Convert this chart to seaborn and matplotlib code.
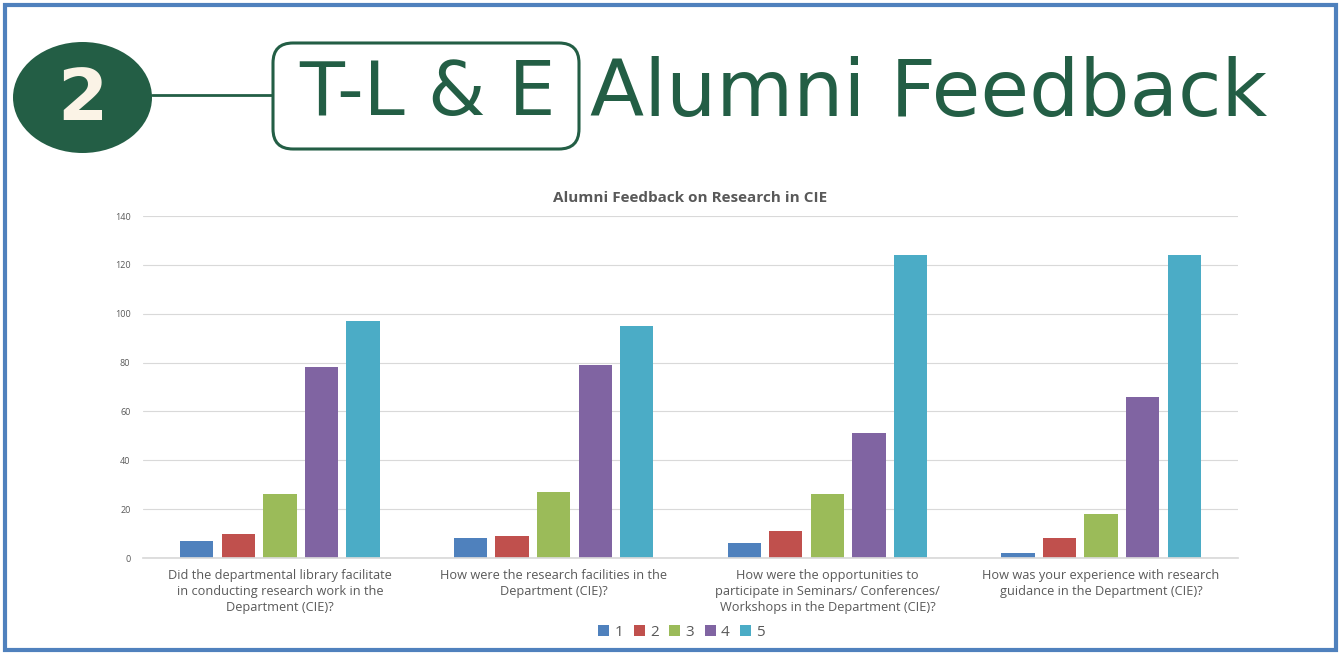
import matplotlib
matplotlib.use("Agg")
import matplotlib.pyplot as plt
import seaborn as sns
import pandas as pd
from matplotlib.patches import Ellipse, FancyBboxPatch, Rectangle

# ---- data ----
questions = [
    "Did the departmental library facilitate\nin conducting research work in the\nDepartment (CIE)?",
    "How were the research facilities in the\nDepartment (CIE)?",
    "How were the opportunities to\nparticipate in Seminars/ Conferences/\nWorkshops in the Department (CIE)?",
    "How was your experience with research\nguidance in the Department (CIE)?",
]
ratings = ["1", "2", "3", "4", "5"]
rating_1 = [7, 8, 6, 2]
rating_2 = [10, 9, 11, 8]
rating_3 = [26, 27, 26, 18]
rating_4 = [78, 79, 51, 66]
rating_5 = [97, 95, 124, 124]
palette = ["#4f81bd", "#c0504d", "#9bbb59", "#8064a2", "#4bacc6"]

series = [rating_1, rating_2, rating_3, rating_4, rating_5]
rows = []
for r, vals in zip(ratings, series):
    for q, v in zip(questions, vals):
        rows.append({"Question": q, "Rating": r, "Count": v})
df = pd.DataFrame(rows)

sns.set_theme(style="white")
plt.rcParams["font.family"] = ["Open Sans", "DejaVu Sans"]

W, H = 1341, 655
fig = plt.figure(figsize=(W / 100, H / 100), dpi=100)

# overlay axes in pixel coordinates for header / border
ov = fig.add_axes([0, 0, 1, 1])
ov.set_xlim(0, W)
ov.set_ylim(H, 0)
ov.axis("off")
ov.set_zorder(0)

green = "#235e45"
ov.add_patch(Rectangle((5, 5), W - 10, H - 10, fill=False, edgecolor="#4f81bd", linewidth=3))
ov.add_patch(Ellipse((82.5, 97.5), 139, 111, facecolor=green, edgecolor="none"))
ov.text(82.5, 101, "2", ha="center", va="center", fontsize=52, fontweight="heavy",
        color="#fbf3e6", family="DejaVu Sans")
ov.plot([152, 272], [95, 95], color=green, linewidth=2)
ov.add_patch(FancyBboxPatch((273, 43), 306, 106, boxstyle="round,pad=0,rounding_size=20",
                            fill=False, edgecolor=green, linewidth=2.2))
ov.text(427, 94, "T-L & E", ha="center", va="center", fontsize=53, color=green,
        family="DejaVu Sans")
ov.text(590, 94, "Alumni Feedback", ha="left", va="center", fontsize=57, color=green,
        family="DejaVu Sans")

# chart axes
ax = fig.add_axes([143 / W, (H - 558) / H, (1238 - 143) / W, (558 - 216) / H])
ax.set_zorder(1)
ax.patch.set_alpha(0)
sns.barplot(data=df, x="Question", y="Count", hue="Rating", palette=palette,
            width=0.76, gap=0.2, ax=ax, saturation=1, errorbar=None, legend=True,
            linewidth=0)

ax.set_ylim(0, 140)
ax.set_yticks(range(0, 141, 20))
ax.yaxis.grid(True, color="#d9d9d9", linewidth=0.8)
ax.set_axisbelow(True)
for s in ["top", "right", "left"]:
    ax.spines[s].set_visible(False)
ax.spines["bottom"].set_color("#d9d9d9")
ax.set_xlabel("")
ax.set_ylabel("")
ax.tick_params(axis="y", labelsize=6.5, colors="#595959", length=0, pad=9)
ax.tick_params(axis="x", labelsize=9.2, colors="#595959", length=0, pad=8)
for lbl in ax.get_xticklabels():
    lbl.set_multialignment("center")
    lbl.set_linespacing(1.3)

ax.set_title("Alumni Feedback on Research in CIE", fontsize=11, fontweight="bold",
             color="#595959", pad=10)

leg = ax.legend(loc="center", bbox_to_anchor=(0.492, -0.218), ncol=5, frameon=False,
                fontsize=11, handlelength=0.7, handleheight=0.7, handletextpad=0.35,
                columnspacing=0.7, labelcolor="#595959")
for h in leg.legend_handles:
    h.set_linewidth(0)

fig.savefig("out.png", dpi=100)
